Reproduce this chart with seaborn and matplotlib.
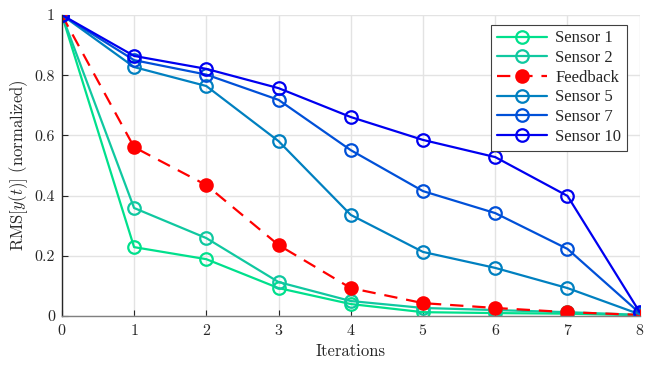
import matplotlib
matplotlib.use('Agg')
import matplotlib.pyplot as plt
import seaborn as sns
import pandas as pd

# data
iterations = [0, 1, 2, 3, 4, 5, 6, 7, 8]
sensor1 = [1.0, 0.229, 0.189, 0.093, 0.040, 0.013, 0.010, 0.008, 0.003]
sensor2 = [1.0, 0.359, 0.259, 0.113, 0.050, 0.027, 0.020, 0.013, 0.004]
feedback = [1.0, 0.561, 0.435, 0.236, 0.093, 0.043, 0.027, 0.013, 0.004]
sensor5 = [1.0, 0.827, 0.764, 0.581, 0.336, 0.213, 0.160, 0.093, 0.006]
sensor7 = [1.0, 0.850, 0.802, 0.718, 0.551, 0.415, 0.342, 0.223, 0.010]
sensor10 = [1.0, 0.864, 0.821, 0.757, 0.661, 0.585, 0.528, 0.399, 0.013]

names = ['Sensor 1', 'Sensor 2', 'Feedback', 'Sensor 5', 'Sensor 7', 'Sensor 10']
series = [sensor1, sensor2, feedback, sensor5, sensor7, sensor10]
colors = ['#00e08c', '#10c8a0', '#ff0000', '#0080c0', '#0050d8', '#0000f0']

sns.set_style('whitegrid')
plt.rcParams['font.family'] = ['cmr10', 'DejaVu Serif']
plt.rcParams['mathtext.fontset'] = 'cm'
plt.rcParams['axes.formatter.use_mathtext'] = True

fig = plt.figure(figsize=(6.65, 3.65), dpi=100)
ax = fig.add_axes([0.093, 0.134, 0.869, 0.825])

for name, vals, c in zip(names, series, colors):
    df = pd.DataFrame({'it': iterations, 'rms': vals})
    if name == 'Feedback':
        sns.lineplot(data=df, x='it', y='rms', ax=ax, color=c, lw=1.6, ls=(0, (6, 4)),
                     marker='o', markersize=9, markerfacecolor=c, markeredgecolor=c,
                     markeredgewidth=1.5, label=name)
    else:
        sns.lineplot(data=df, x='it', y='rms', ax=ax, color=c, lw=1.6,
                     marker='o', markersize=9, markerfacecolor='none', markeredgecolor=c,
                     markeredgewidth=1.6, label=name)

ax.set_xlim(0, 8)
ax.set_ylim(0, 1)
ax.set_xticks(iterations)
ax.set_yticks([0, 0.2, 0.4, 0.6, 0.8, 1])
ax.set_yticklabels(['0', '0.2', '0.4', '0.6', '0.8', '1'])
ax.set_xlabel('Iterations', fontsize=12, labelpad=4)
ax.set_ylabel(r'RMS$[y(t)]$ (normalized)', fontsize=12, labelpad=3)
ax.tick_params(labelsize=11.5, direction='in', length=4, bottom=True, left=True, pad=5)
ax.grid(True, color='#e3e3e3', lw=1)
for s in ['top', 'right']:
    ax.spines[s].set_visible(False)
ax.spines['left'].set_color('#262626')
ax.spines['bottom'].set_color('#808080')
ax.spines['left'].set_linewidth(1)
ax.spines['bottom'].set_linewidth(1)

leg = ax.legend(loc='upper right', bbox_to_anchor=(0.978, 0.968), fancybox=False,
                prop={'family': 'Liberation Serif', 'size': 12},
                framealpha=1, edgecolor='#404040', handlelength=3.0, handletextpad=0.5,
                borderpad=0.35, labelspacing=0.22, borderaxespad=0)
leg.get_frame().set_linewidth(0.8)

fig.savefig('out.png', dpi=100)
